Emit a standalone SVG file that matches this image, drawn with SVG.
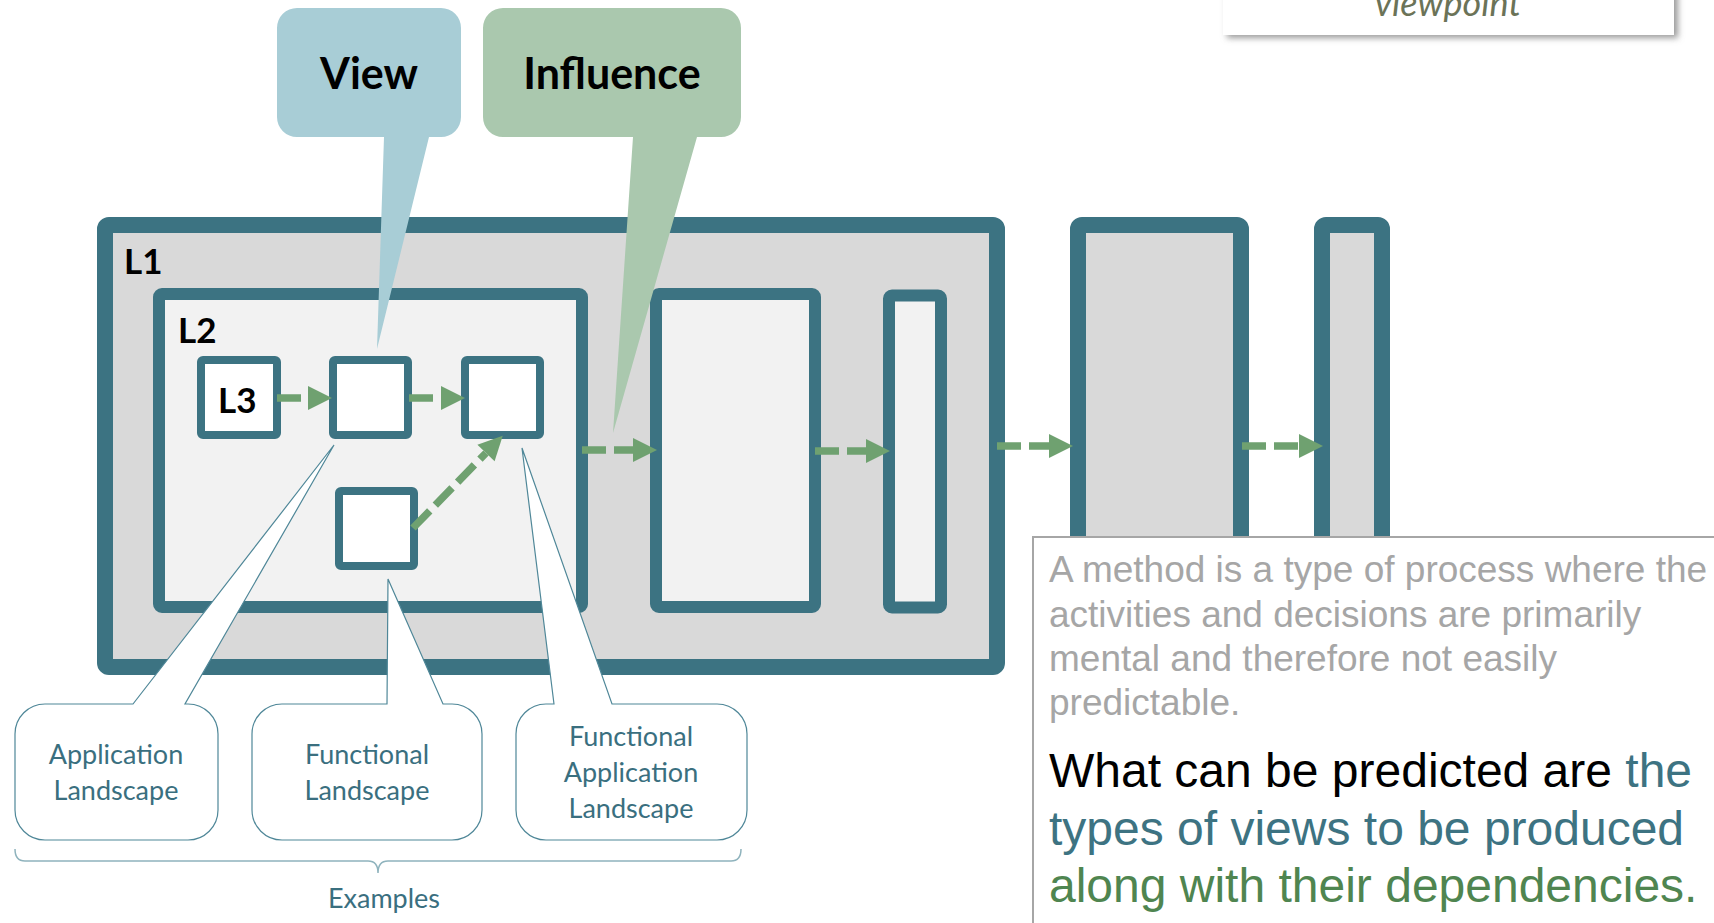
<svg xmlns="http://www.w3.org/2000/svg" width="1714" height="923" viewBox="0 0 1714 923">
  <style>
    .frame { stroke: #3c7382; }
    .l1 { fill: #d9d9d9; stroke-width: 16; }
    .l2 { fill: #f2f2f2; stroke-width: 12; }
    .l3 { fill: #ffffff; stroke-width: 8; }
    .lvl { font-family: Lato, "Open Sans", sans-serif; font-weight: bold; font-size: 35px; fill: #000; }
    .bub { font-family: Lato, "Open Sans", sans-serif; font-weight: bold; font-size: 43px; fill: #000; text-anchor: middle; }
    .call { fill: #ffffff; stroke: #4f8798; stroke-width: 1.2; }
    .clab { font-family: Lato, "Open Sans", sans-serif; font-size: 27px; fill: #3a6f7f; text-anchor: middle; }
    .arr { stroke: #6fa170; stroke-width: 7.5; stroke-dasharray: 24 8; fill: none; marker-end: url(#head); }
    .gray { font-family: "Liberation Sans", Arial, sans-serif; font-size: 37px; fill: #a6a6a6; }
    .big { font-family: "Liberation Sans", Arial, sans-serif; font-size: 48px; }
    .blk { fill: #000000; }
    .teal { fill: #3d7382; }
    .grn { fill: #4f8550; }
  </style>
  <defs>
    <marker id="head" markerUnits="userSpaceOnUse" markerWidth="24" markerHeight="24" refX="0" refY="12" orient="auto" overflow="visible">
      <path d="M0,0 L24,12 L0,24 Z" fill="#6fa170"/>
    </marker>
    <filter id="shadow" x="-10%" y="-50%" width="120%" height="200%">
      <feGaussianBlur stdDeviation="3"/>
    </filter>
  </defs>

  <rect width="1714" height="923" fill="#ffffff"/>

  <!-- top-right viewpoint box -->
  <g id="viewpoint-box">
    <rect x="1227" y="-20" width="451" height="58" fill="#9a9a9a" filter="url(#shadow)"/>
    <rect x="1223" y="-20" width="451" height="55" fill="#ffffff"/>
    <text x="1448" y="16" font-family="Lato, 'Open Sans', sans-serif" font-style="italic" font-size="36" fill="#6b7358" text-anchor="middle">viewpoint</text>
  </g>

  <!-- frames -->
  <g id="L1">
    <rect class="frame l1" x="105" y="225" width="892" height="442" rx="4"/>
    <text class="lvl" x="124" y="274">L1</text>
  </g>
  <g id="colC">
    <rect class="frame l1" x="1078" y="225" width="163" height="420" rx="4"/>
  </g>
  <g id="colD">
    <rect class="frame l1" x="1322" y="225" width="60" height="420" rx="4"/>
  </g>
  <g id="L2">
    <rect class="frame l2" x="159" y="294" width="423" height="313" rx="3"/>
    <text class="lvl" x="178" y="343">L2</text>
  </g>
  <g id="boxA">
    <rect class="frame l2" x="656" y="294" width="159" height="313" rx="3"/>
  </g>
  <g id="boxB">
    <rect class="frame l2" x="889" y="295.5" width="52" height="312" rx="3"/>
  </g>
  <g id="L3">
    <rect class="frame l3" x="201" y="360" width="76" height="75" rx="2"/>
    <text class="lvl" x="218" y="413">L3</text>
  </g>
  <g id="box2">
    <rect class="frame l3" x="333" y="360" width="75" height="75" rx="2"/>
  </g>
  <g id="box3">
    <rect class="frame l3" x="465" y="360" width="75" height="75" rx="2"/>
  </g>
  <g id="box4">
    <rect class="frame l3" x="339" y="491" width="75" height="75" rx="2"/>
  </g>

  <!-- connectors -->
  <g id="connectors">
    <line class="arr" x1="277" y1="398" x2="308" y2="398"/>
    <line class="arr" x1="409" y1="398" x2="441" y2="398"/>
    <line class="arr" x1="413" y1="528" x2="486" y2="453"/>
    <line class="arr" x1="582" y1="450" x2="633" y2="450"/>
    <line class="arr" x1="815" y1="451" x2="866" y2="451"/>
    <line class="arr" x1="997" y1="446" x2="1049" y2="446"/>
    <line class="arr" x1="1242" y1="446" x2="1299" y2="446"/>
  </g>

  <!-- speech bubbles -->
  <g id="view-bubble">
    <path d="M297,8 H441 A20,20 0 0 1 461,28 V117 A20,20 0 0 1 441,137 H429 L377,349 L384,137 H297 A20,20 0 0 1 277,117 V28 A20,20 0 0 1 297,8 Z" fill="#a8cdd6"/>
    <text class="bub" x="369" y="89">View</text>
  </g>
  <g id="influence-bubble">
    <path d="M503,8 H721 A20,20 0 0 1 741,28 V117 A20,20 0 0 1 721,137 H697 L613,433 L633,137 H503 A20,20 0 0 1 483,117 V28 A20,20 0 0 1 503,8 Z" fill="#aac8ae"/>
    <text class="bub" x="612" y="89">Influence</text>
  </g>

  <g id="callout-application-landscape">
    <path class="call" d="M133,704 L334,445 L185,704 H188 A30,30 0 0 1 218,734 V810 A30,30 0 0 1 188,840 H45 A30,30 0 0 1 15,810 V734 A30,30 0 0 1 45,704 Z"/>
    <text class="clab" x="116" y="764">Application</text>
    <text class="clab" x="116" y="800">Landscape</text>
  </g>
  <g id="callout-functional-landscape">
    <path class="call" d="M387,704 L388,579 L443,704 H452 A30,30 0 0 1 482,734 V810 A30,30 0 0 1 452,840 H282 A30,30 0 0 1 252,810 V734 A30,30 0 0 1 282,704 Z"/>
    <text class="clab" x="367" y="764">Functional</text>
    <text class="clab" x="367" y="800">Landscape</text>
  </g>
  <g id="callout-functional-application-landscape">
    <path class="call" d="M554,704 L522,448 L612,704 H717 A30,30 0 0 1 747,734 V810 A30,30 0 0 1 717,840 H546 A30,30 0 0 1 516,810 V734 A30,30 0 0 1 546,704 Z"/>
    <text class="clab" x="631" y="746">Functional</text>
    <text class="clab" x="631" y="782">Application</text>
    <text class="clab" x="631" y="818">Landscape</text>
  </g>

  <g id="examples-brace">
    <path d="M15,849 Q15,861 25,861 H368 Q378,861 378,873 Q378,861 388,861 H731 Q741,861 741,849" fill="none" stroke="#8fb3bd" stroke-width="1.5"/>
    <text class="clab" x="384" y="908">Examples</text>
  </g>

  <!-- text box -->
  <g id="text-box">
    <rect x="1033" y="537" width="700" height="400" fill="#ffffff" stroke="#a6a6a6" stroke-width="2"/>
    <text class="gray" x="1049" y="582">A method is a type of process where the</text>
    <text class="gray" x="1049" y="627">activities and decisions are primarily</text>
    <text class="gray" x="1049" y="671">mental and therefore not easily</text>
    <text class="gray" x="1049" y="715">predictable.</text>
    <text class="big blk" x="1049" y="787">What can be predicted are <tspan class="teal">the</tspan></text>
    <text class="big teal" x="1049" y="845">types of views to be produced</text>
    <text class="big grn" x="1049" y="902">along with their dependencies.</text>
  </g>
</svg>
